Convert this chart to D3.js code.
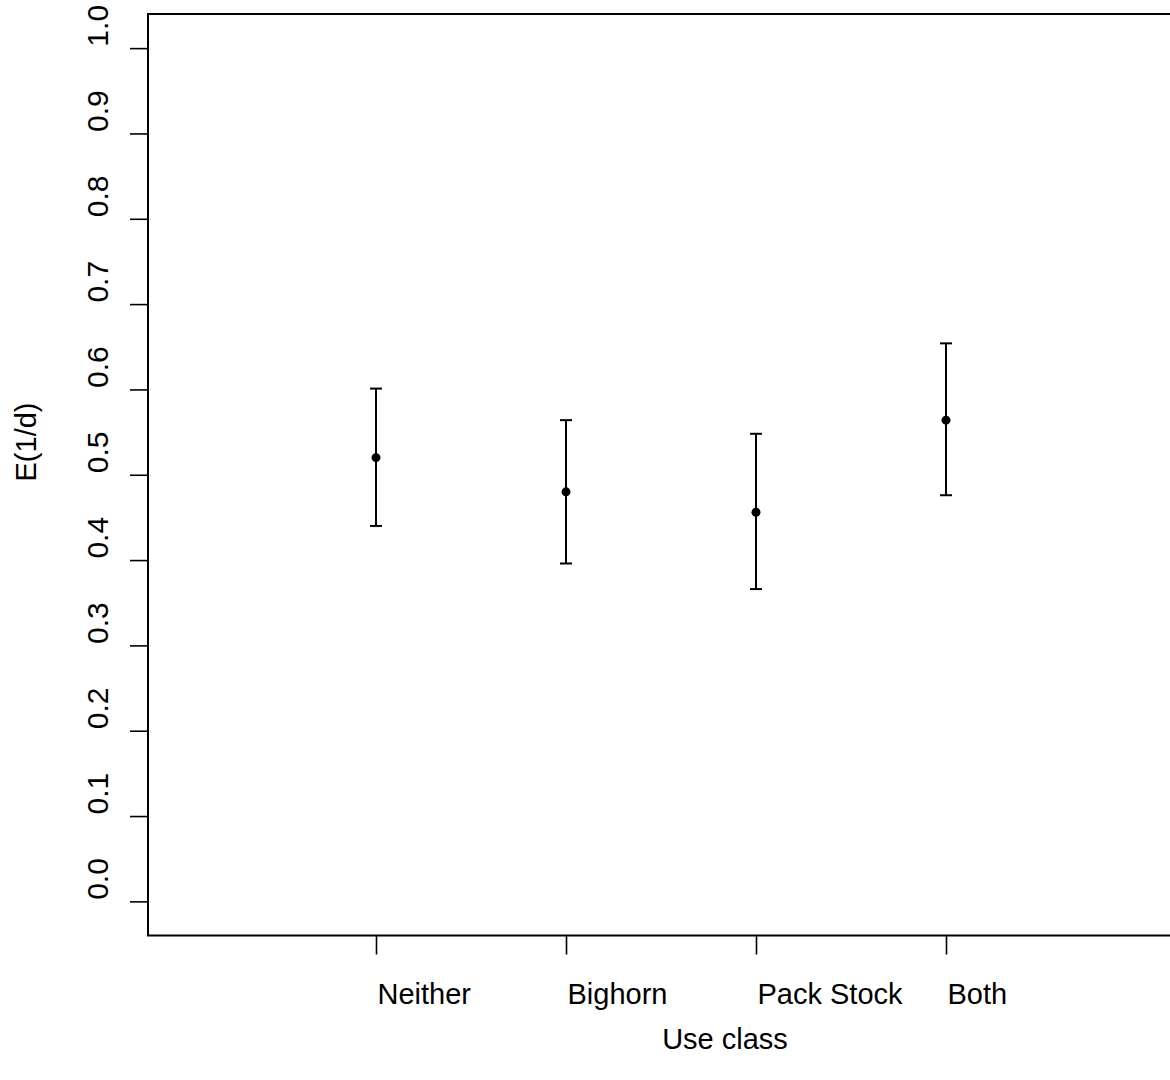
<!DOCTYPE html>
<html>
<head>
<meta charset="utf-8">
<script src="https://cdn.jsdelivr.net/npm/d3@7"></script>
<style>
  html, body { margin: 0; padding: 0; background: #fff; }
  svg { display: block; font-family: "Liberation Sans", Arial, sans-serif; }
</style>
</head>
<body>
<svg id="chart" width="1170" height="1080"></svg>
<script>
// ---- data ----
const categories = ["Neither", "Bighorn", "Pack Stock", "Both"];
const positions  = [1, 2, 3, 4];
const means      = [0.520, 0.480, 0.456, 0.564];
const lowerCI    = [0.440, 0.396, 0.366, 0.476];
const upperCI    = [0.601, 0.564, 0.548, 0.654];
const yTicks     = [0.0, 0.1, 0.2, 0.3, 0.4, 0.5, 0.6, 0.7, 0.8, 0.9, 1.0];
const xLabel = "Use class";
const yLabel = "E(1/d)";

// ---- layout ----
const svg = d3.select("#chart");
const plotLeft = 148, plotRight = 1174, plotTop = 14, plotBottom = 935.5;
const fontSize = 29;

const x = d3.scaleLinear().domain([-0.2, 5.2]).range([plotLeft, plotRight]);
const y = d3.scaleLinear().domain([-0.04, 1.04]).range([plotBottom, plotTop]);

// plot box
svg.append("rect")
  .attr("x", plotLeft).attr("y", plotTop)
  .attr("width", plotRight - plotLeft).attr("height", plotBottom - plotTop)
  .attr("fill", "none").attr("stroke", "#000").attr("stroke-width", 2);

// y axis
const yAxis = svg.append("g")
  .attr("transform", `translate(${plotLeft},0)`)
  .call(d3.axisLeft(y).tickValues(yTicks).tickFormat(d3.format(".1f")).tickSize(18).tickSizeOuter(0));
yAxis.select(".domain").remove();
yAxis.selectAll(".tick line").attr("stroke", "#000").attr("stroke-width", 1.6);
yAxis.selectAll(".tick text")
  .attr("x", null).attr("dy", null)
  .attr("transform", "translate(-40.5,-2) rotate(-90)")
  .attr("text-anchor", "start")
  .attr("fill", "#000")
  .style("font-size", "30px")
  .style("font-family", "'Liberation Sans', Arial, sans-serif");

// x axis
const xAxis = svg.append("g")
  .attr("transform", `translate(0,${plotBottom})`)
  .call(d3.axisBottom(x).tickValues(positions).tickFormat((d, i) => categories[i]).tickSize(19).tickSizeOuter(0));
xAxis.select(".domain").remove();
xAxis.selectAll(".tick line").attr("stroke", "#000").attr("stroke-width", 1.6);
xAxis.selectAll(".tick text")
  .attr("y", 68.5).attr("dy", null).attr("x", 1)
  .attr("text-anchor", "start")
  .attr("fill", "#000")
  .style("font-size", fontSize + "px")
  .style("font-family", "'Liberation Sans', Arial, sans-serif");

// axis titles
svg.append("text")
  .attr("x", 725).attr("y", 1049)
  .attr("text-anchor", "middle")
  .style("font-size", fontSize + "px")
  .text(xLabel);
svg.append("text")
  .attr("transform", "translate(36,442) rotate(-90)")
  .attr("text-anchor", "middle")
  .style("font-size", fontSize + "px")
  .text(yLabel);

// error bars
const bars = svg.append("g");
const capHalf = 6;
positions.forEach((p, i) => {
  const cx = x(p);
  bars.append("line")
    .attr("x1", cx).attr("x2", cx)
    .attr("y1", y(lowerCI[i])).attr("y2", y(upperCI[i]))
    .attr("stroke", "#000").attr("stroke-width", 2);
  [lowerCI[i], upperCI[i]].forEach(v => {
    bars.append("line")
      .attr("x1", cx - capHalf).attr("x2", cx + capHalf)
      .attr("y1", y(v)).attr("y2", y(v))
      .attr("stroke", "#000").attr("stroke-width", 2);
  });
  bars.append("circle")
    .attr("cx", cx).attr("cy", y(means[i]))
    .attr("r", 4.5).attr("fill", "#000");
});
</script>
</body>
</html>
